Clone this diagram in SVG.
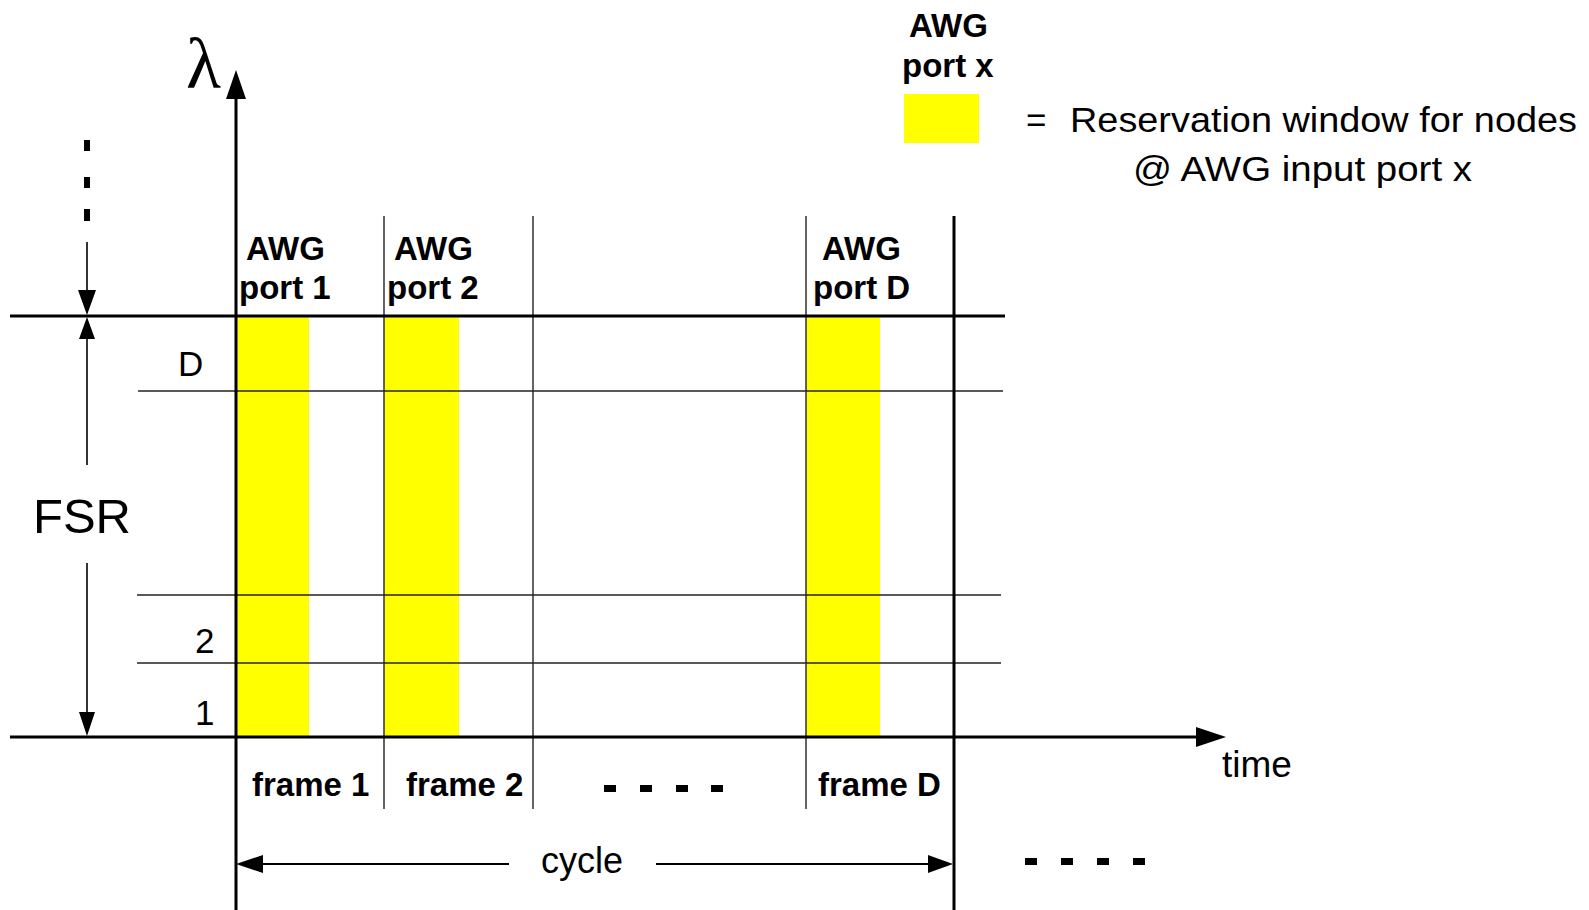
<svg xmlns="http://www.w3.org/2000/svg" width="1589" height="910" viewBox="0 0 1589 910">
<style>
.b{font-family:"Liberation Sans",Arial,sans-serif;font-weight:bold;font-size:33px;fill:#000}
.r{font-family:"Liberation Sans",Arial,sans-serif;font-size:35px;fill:#000}
.thick{stroke:#000;stroke-width:3;fill:none}
.thin{stroke:#222;stroke-width:1.4;fill:none}
.dim{stroke:#000;stroke-width:1.6;fill:none}
.cyc{stroke:#000;stroke-width:2.2;fill:none}
.win{fill:#ffff00}
.dash{fill:#000}
</style>
<rect width="1589" height="910" fill="#fff"/>
<g id="windows">
<rect class="win" x="236" y="316" width="73" height="421"/>
<rect class="win" x="384" y="316" width="75" height="421"/>
<rect class="win" x="806" y="316" width="74" height="421"/>
</g>
<g id="connectors">
<line class="thin" x1="138" y1="391" x2="1003" y2="391"/>
<line class="thin" x1="137" y1="595" x2="1001" y2="595"/>
<line class="thin" x1="137" y1="663" x2="1001" y2="663"/>
<line class="thin" x1="384" y1="216" x2="384" y2="809"/>
<line class="thin" x1="533" y1="216" x2="533" y2="809"/>
<line class="thin" x1="806" y1="216" x2="806" y2="809"/>
<line class="thick" x1="10" y1="316" x2="1005" y2="316"/>
<line class="thick" x1="10" y1="737" x2="1198" y2="737"/>
<polygon points="1196,727 1226,737 1196,747" fill="#000"/>
<line class="thick" x1="236" y1="97" x2="236" y2="910"/>
<polygon points="226,99 236,70 246,99" fill="#000"/>
<line class="thick" x1="954" y1="216" x2="954" y2="910"/>
<rect class="dash" x="84" y="140" width="6" height="11"/>
<rect class="dash" x="84" y="177" width="6" height="11"/>
<rect class="dash" x="84" y="209" width="6" height="12"/>
<line class="dim" x1="87" y1="242" x2="87" y2="292"/>
<polygon points="78,290 96,290 87,315" fill="#000"/>
<polygon points="79,339 95,339 87,317" fill="#000"/>
<line class="dim" x1="87" y1="337" x2="87" y2="465"/>
<line class="dim" x1="87" y1="563" x2="87" y2="714"/>
<polygon points="79,712 95,712 87,736" fill="#000"/>
<line class="cyc" x1="261" y1="864" x2="509" y2="864"/>
<polygon points="263,855 236,864 263,873" fill="#000"/>
<line class="cyc" x1="656" y1="864" x2="930" y2="864"/>
<polygon points="928,855 953,864 928,873" fill="#000"/>
<rect class="dash" x="604" y="785" width="12" height="7"/>
<rect class="dash" x="640" y="785" width="12" height="7"/>
<rect class="dash" x="676" y="785" width="12" height="7"/>
<rect class="dash" x="711" y="785" width="12" height="7"/>
<rect class="dash" x="1025" y="858" width="12" height="7"/>
<rect class="dash" x="1061" y="858" width="12" height="7"/>
<rect class="dash" x="1097" y="858" width="12" height="7"/>
<rect class="dash" x="1133" y="858" width="12" height="7"/>
</g>
<g id="axis-labels">
<text x="186" y="88" style="font-family:'Liberation Serif','Times New Roman',serif;font-size:72px">λ</text>
<text class="r" x="1222" y="777" style="font-size:37px">time</text>
<text class="r" x="33" y="533" style="font-size:49px">FSR</text>
<text class="r" x="541" y="873" style="font-size:36px">cycle</text>
</g>
<g id="wavelength-labels">
<text class="r" x="178" y="376">D</text>
<text class="r" x="195" y="653">2</text>
<text class="r" x="195" y="725">1</text>
</g>
<g id="port-labels">
<text class="b" x="246" y="260">AWG</text>
<text class="b" x="239" y="299">port 1</text>
<text class="b" x="394" y="260">AWG</text>
<text class="b" x="387" y="299">port 2</text>
<text class="b" x="822" y="260">AWG</text>
<text class="b" x="813" y="299">port D</text>
</g>
<g id="frame-labels">
<text class="b" x="252" y="796">frame 1</text>
<text class="b" x="406" y="796">frame 2</text>
<text class="b" x="818" y="796">frame D</text>
</g>
<g id="legend">
<text class="b" x="909" y="37">AWG</text>
<text class="b" x="902" y="77">port x</text>
<rect class="win" x="904" y="94" width="75" height="49"/>
<text class="r" x="1026" y="132">=</text>
<text class="r" x="1070" y="132" textLength="507" lengthAdjust="spacingAndGlyphs">Reservation window for nodes</text>
<text class="r" x="1133" y="181" textLength="339" lengthAdjust="spacingAndGlyphs">@ AWG input port x</text>
</g>
</svg>
